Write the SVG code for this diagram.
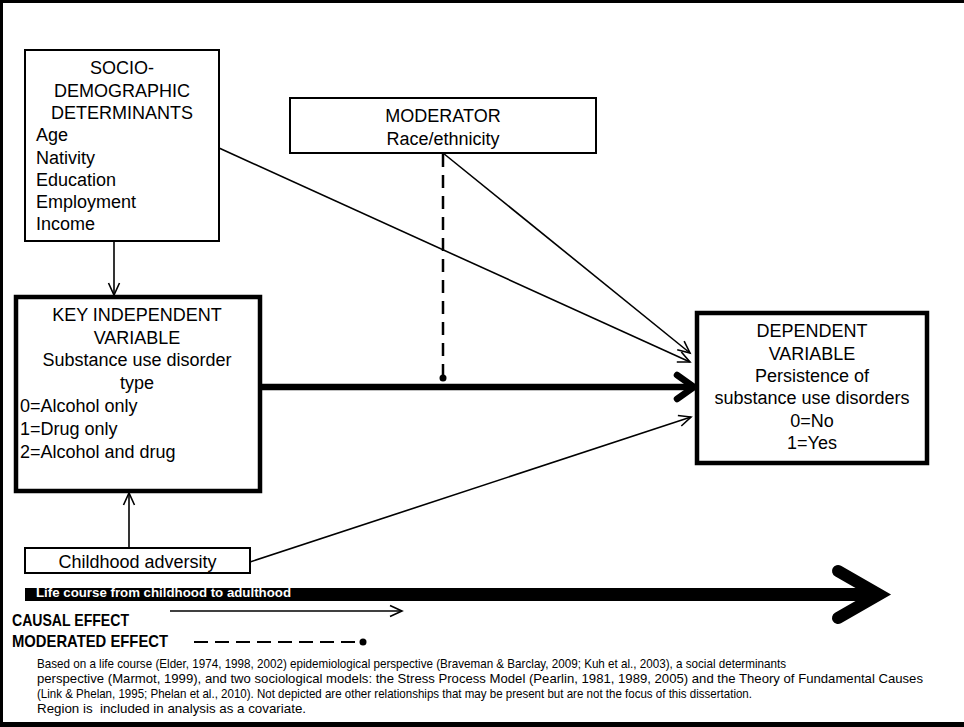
<svg xmlns="http://www.w3.org/2000/svg" width="964" height="727" viewBox="0 0 964 727">
<style>
  .t{font-family:"Liberation Sans",Arial,sans-serif;font-size:18px;fill:#000}
  .c{text-anchor:middle}
  .box{fill:#fff;stroke:#000;stroke-width:2}
  .thick{fill:#fff;stroke:#000;stroke-width:4.5}
  .ln{stroke:#000;stroke-width:1.6;fill:none}
  .leg{font-family:"Liberation Sans",Arial,sans-serif;font-weight:bold;font-size:17px;fill:#000}
  .note{font-family:"Liberation Sans",Arial,sans-serif;font-size:13.5px;fill:#000}
</style>
<defs>
  <marker id="open" markerUnits="userSpaceOnUse" markerWidth="16" markerHeight="14" refX="13" refY="7" orient="auto" viewBox="0 0 16 14">
    <path d="M1,1.5 L13,7 L1,12.5" fill="none" stroke="#000" stroke-width="1.6"/>
  </marker>
</defs>
<rect x="0" y="0" width="964" height="727" fill="#fff"/>
<rect x="0" y="0" width="964" height="3" fill="#000"/>
<rect x="0" y="0" width="3" height="727" fill="#000"/>
<rect x="0" y="722" width="964" height="5" fill="#000"/>

<g id="connectors">
  <line class="ln" x1="114" y1="241" x2="114" y2="295" marker-end="url(#open)"/>
  <line class="ln" x1="129" y1="548" x2="129" y2="493" marker-end="url(#open)"/>
  <line class="ln" x1="219" y1="148" x2="690" y2="362" marker-end="url(#open)"/>
  <line class="ln" x1="443" y1="153" x2="690" y2="353" marker-end="url(#open)"/>
  <line class="ln" x1="250" y1="562" x2="691" y2="417" marker-end="url(#open)"/>
  <line x1="260" y1="387" x2="692" y2="387" stroke="#000" stroke-width="6.5"/>
  <polyline points="677,375 694,387 677,399" fill="none" stroke="#000" stroke-width="6.5" stroke-linecap="round" stroke-linejoin="miter"/>
  <line x1="443" y1="154" x2="443" y2="376" stroke="#000" stroke-width="2.5" stroke-dasharray="13,8"/>
  <circle cx="443" cy="378" r="3.5" fill="#000"/>
</g>

<g id="socio">
  <rect class="box" x="25" y="50" width="194" height="191"/>
  <text class="t c" x="122" y="74">SOCIO-</text>
  <text class="t c" x="122" y="96.5">DEMOGRAPHIC</text>
  <text class="t c" x="122" y="119">DETERMINANTS</text>
  <text class="t" x="36" y="141">Age</text>
  <text class="t" x="36" y="163.5">Nativity</text>
  <text class="t" x="36" y="186">Education</text>
  <text class="t" x="36" y="208">Employment</text>
  <text class="t" x="36" y="230">Income</text>
</g>

<g id="moderator">
  <rect class="box" x="290" y="98" width="306" height="55"/>
  <text class="t c" x="443" y="122">MODERATOR</text>
  <text class="t c" x="443" y="145">Race/ethnicity</text>
</g>

<g id="key">
  <rect class="thick" x="16" y="297" width="244" height="194"/>
  <text class="t c" x="137" y="321">KEY INDEPENDENT</text>
  <text class="t c" x="137" y="344">VARIABLE</text>
  <text class="t c" x="137" y="366">Substance use disorder</text>
  <text class="t c" x="137" y="389">type</text>
  <text class="t" x="20" y="412">0=Alcohol only</text>
  <text class="t" x="20" y="435">1=Drug only</text>
  <text class="t" x="20" y="458">2=Alcohol and drug</text>
</g>

<g id="dependent">
  <rect class="thick" x="697" y="313" width="230" height="150"/>
  <text class="t c" x="812" y="337">DEPENDENT</text>
  <text class="t c" x="812" y="360">VARIABLE</text>
  <text class="t c" x="812" y="382">Persistence of</text>
  <text class="t c" x="812" y="404">substance use disorders</text>
  <text class="t c" x="812" y="427">0=No</text>
  <text class="t c" x="812" y="449">1=Yes</text>
</g>

<g id="childhood">
  <rect class="box" x="25" y="548" width="225" height="25"/>
  <text class="t c" x="137.5" y="568">Childhood adversity</text>
</g>

<g id="lifecourse">
  <rect x="25" y="588" width="855" height="13" fill="#000"/>
  <polyline points="838,571 879,594.5 838,618" fill="none" stroke="#000" stroke-width="12" stroke-linecap="round" stroke-linejoin="miter"/>
  <text x="36" y="597" font-family="Liberation Sans, Arial, sans-serif" font-weight="bold" font-size="13" fill="#fff" textLength="255" lengthAdjust="spacingAndGlyphs">Life course from childhood to adulthood</text>
</g>

<g id="legend">
  <text class="leg" x="12" y="626" textLength="117" lengthAdjust="spacingAndGlyphs">CAUSAL EFFECT</text>
  <line class="ln" x1="170" y1="611" x2="402" y2="611" marker-end="url(#open)"/>
  <text class="leg" x="12" y="647" textLength="156" lengthAdjust="spacingAndGlyphs">MODERATED EFFECT</text>
  <line x1="194" y1="642" x2="362" y2="642" stroke="#000" stroke-width="2" stroke-dasharray="14,7"/>
  <circle cx="363" cy="642" r="3.5" fill="#000"/>
</g>

<g id="footnote">
  <text class="note" x="37" y="668" textLength="749" lengthAdjust="spacingAndGlyphs">Based on a life course (Elder, 1974, 1998, 2002) epidemiological perspective (Braveman &amp; Barclay, 2009; Kuh et al., 2003), a social determinants</text>
  <text class="note" x="37" y="683" textLength="886" lengthAdjust="spacingAndGlyphs">perspective (Marmot, 1999), and two sociological models: the Stress Process Model (Pearlin, 1981, 1989, 2005) and the Theory of Fundamental Causes</text>
  <text class="note" x="37" y="698" textLength="715" lengthAdjust="spacingAndGlyphs">(Link &amp; Phelan, 1995; Phelan et al., 2010). Not depicted are other relationships that may be present but are not the focus of this dissertation.</text>
  <text class="note" x="37" y="713" textLength="269" lengthAdjust="spacingAndGlyphs" xml:space="preserve">Region is  included in analysis as a covariate.</text>
</g>
</svg>
